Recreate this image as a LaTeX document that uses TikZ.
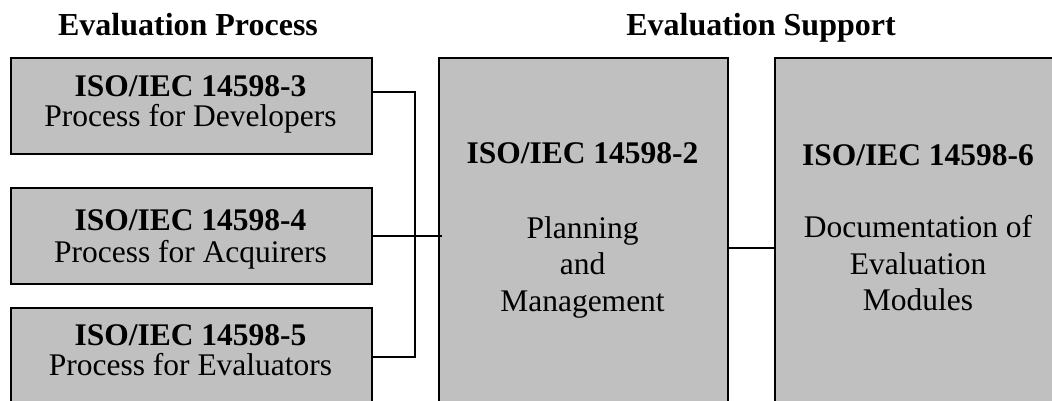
\documentclass[tikz,border=0pt]{standalone}
\usepackage{fontspec}
\setmainfont{Liberation Serif}
\begin{document}
\begin{tikzpicture}[x=1pt,y=-1pt,
  box/.style={draw=black,line width=2pt,fill=boxgray,inner sep=0pt},
  link/.style={draw=black,line width=2pt},
  txt/.style={anchor=base,inner sep=0pt,font=\fontsize{31.5}{31}\selectfont},
  btxt/.style={txt,font=\fontsize{31.5}{31}\selectfont\bfseries},
  head/.style={anchor=base,inner sep=0pt,font=\fontsize{32}{32}\selectfont\bfseries}]
\definecolor{boxgray}{HTML}{C0C0C0}
\useasboundingbox (0,0) rectangle (1052,401);
\clip (0,0) rectangle (1052,401);
% headings
\node[head] (h1) at (188,36) {Evaluation Process};
\node[head] (h2) at (761,36) {Evaluation Support};
% left boxes
\node[box,minimum width=361pt,minimum height=96pt,anchor=north west] (b3) at (10,57) {};
\node[box,minimum width=361pt,minimum height=96pt,anchor=north west] (b4) at (10,187) {};
\node[box,minimum width=361pt,minimum height=110pt,anchor=north west] (b5) at (10,307) {};
% big boxes
\node[box,minimum width=289pt,minimum height=360pt,anchor=north west] (b2) at (438,57) {};
\node[box,minimum width=300pt,minimum height=360pt,anchor=north west] (b6) at (774,57) {};
% texts
\node[btxt] (t3a) at (190.5,97) {ISO/IEC 14598-3};
\node[txt]  (t3b) at (190.5,127) {Process for Developers};
\node[btxt] (t4a) at (190.5,230) {ISO/IEC 14598-4};
\node[txt]  (t4b) at (190.5,262) {Process for Acquirers};
\node[btxt] (t5a) at (190.5,345) {ISO/IEC 14598-5};
\node[txt]  (t5b) at (190.5,375) {Process for Evaluators};
\node[btxt] (t2a) at (582.5,164) {ISO/IEC 14598-2};
\node[txt]  (t2b) at (582.5,238) {Planning};
\node[txt]  (t2c) at (582.5,274.5) {and};
\node[txt]  (t2d) at (582.5,311) {Management};
\node[btxt] (t6a) at (918,165) {ISO/IEC 14598-6};
\node[txt]  (t6b) at (918,237) {Documentation of};
\node[txt]  (t6c) at (918,274) {Evaluation};
\node[txt]  (t6d) at (918,310.5) {Modules};
% connectors
\coordinate (j) at (415,236);
\coordinate (e) at (442,236);
\draw[link] (b3.east |- 0,92) -| (j) |- (b5.east |- 0,357);
\draw[link] (b4.east |- 0,236) -- (e);
\draw[link] (b2.east |- 0,248) -- (b6.west |- 0,248);
\end{tikzpicture}
\end{document}
